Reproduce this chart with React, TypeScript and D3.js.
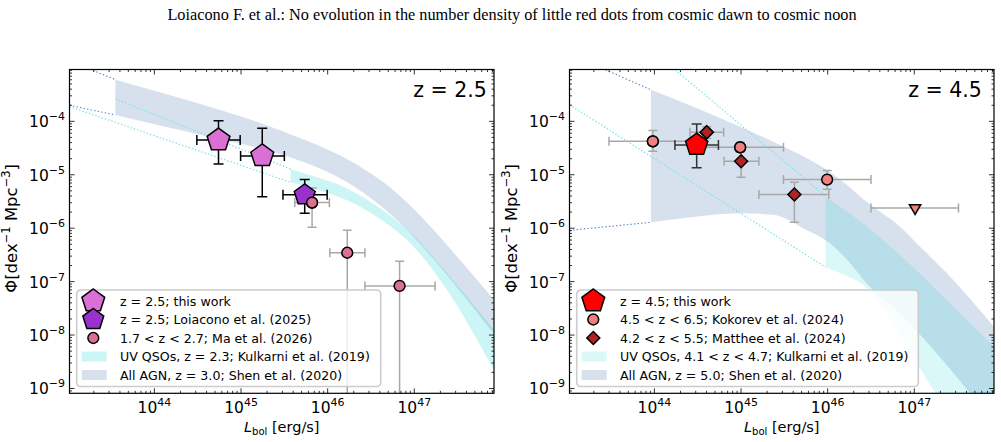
import React, { useEffect, useRef } from "react";
import * as d3 from "d3";

const TITLE =
  "Loiacono F. et al.: No evolution in the number density of little red dots from cosmic dawn to cosmic noon";

// axis limits in log10 units
const L_LIM = [43.02, 47.92];
const PHI_LIM = [-9.09, -3.03];

// points: logL, logL lo, logL hi, logPhi, logPhi lo, logPhi hi
const thisWork25 = [
  [44.74, 44.49, 44.99, -4.35, -4.8, -3.99],
  [45.245, 44.995, 45.5, -4.647, -5.41, -4.13],
];
const loiacono25 = [[45.735, 45.484, 45.994, -5.376, -5.72, -5.09]];
const ma26 = [
  [45.82, 45.62, 46.02, -5.52, -5.98, -5.25],
  [46.226, 46.025, 46.43, -6.46, -12, -6.04],
  [46.83, 46.43, 47.24, -7.08, -12, -6.62],
];

const thisWork45 = [[44.488, 44.237, 44.739, -4.441, -4.87, -4.05]];
const kokorev24 = [
  [43.982, 43.476, 44.49, -4.374, -4.56, -4.17],
  [44.99, 44.49, 45.49, -4.486, -4.58, -4.39],
  [45.994, 45.49, 46.5, -5.09, -5.27, -4.92],
];
const kokorev24Limit = [[47.009, 46.5, 47.51, -5.62, -5.62, -5.62]];
const matthee24 = [
  [44.604, 44.41, 44.8, -4.205, -4.32, -4.1],
  [45.001, 44.805, 45.206, -4.748, -5.047, -4.535],
  [45.616, 45.206, 46.013, -5.37, -5.89, -5.14],
];

// Shen et al. (2020), z = 3.0
const shen30L = [43.55, 44.53, 45.22, 45.68, 46.18, 46.8, 47.1, 47.45, 47.92];
const shen30Up = [-3.22, -3.676, -4.03, -4.31, -4.668, -5.347, -5.82, -6.45, -7.34];
const shen30Lo = [-3.88, -4.25, -4.51, -4.74, -5.1, -5.85, -6.35, -7.02, -7.98];
// Kulkarni et al. (2019), z = 2.3
const kulk23L = [45.57, 45.84, 46.23, 46.6, 47.0, 47.38, 47.92];
const kulk23Up = [-4.89, -5.03, -5.26, -5.62, -6.15, -6.85, -7.9];
const kulk23Lo = [-5.14, -5.26, -5.48, -5.82, -6.36, -7.16, -8.66];

// Shen et al. (2020), z = 5.0
const shen50L = [43.96, 44.5, 45.0, 45.37, 45.75, 46.0, 46.23, 46.46, 46.84, 47.1, 47.42, 47.92];
const shen50Up = [-3.41, -3.76, -4.11, -4.38, -4.68, -4.92, -5.2, -5.52, -5.98, -6.4, -6.92, -7.85];
const shen50Lo = [-5.89, -5.78, -5.72, -5.75, -6.03, -6.25, -6.6, -7.05, -7.6, -8.05, -8.65, -9.65];
// Kulkarni et al. (2019), 4.1 < z < 4.7
const kulk45L = [45.975, 46.2, 46.4, 46.6, 46.8, 47.0, 47.25, 47.92];
const kulk45Up = [-5.4, -5.66, -5.9, -6.17, -6.45, -6.75, -7.15, -8.22];
const kulk45Lo = [-6.73, -6.88, -7.05, -7.4, -7.9, -8.45, -9.1, -10.8];

// dotted extrapolations below the fitted luminosity range: [logL, logPhi] pairs
const shen30ExtUp = [[43.02, -2.87], [43.55, -3.22]];
const shen30ExtLo = [[43.02, -3.7], [43.55, -3.88]];
const kulk23ExtUp = [[43.55, -3.58], [45.57, -4.89]];
const kulk23ExtLo = [[43.02, -3.725], [45.57, -5.14]];
const shen50ExtUp = [[43.02, -2.74], [43.96, -3.41]];
const shen50ExtLo = [[43.02, -6.04], [43.96, -5.89]];
const kulk45ExtUp = [[44.0, -2.71], [45.975, -5.4]];
const kulk45ExtLo = [[43.02, -3.69], [45.975, -6.73]];

const legend25 = [
  "z = 2.5; this work",
  "z = 2.5; Loiacono et al. (2025)",
  "1.7 < z < 2.7; Ma et al. (2026)",
  "UV QSOs, z = 2.3; Kulkarni et al. (2019)",
  "All AGN, z = 3.0; Shen et al. (2020)",
];
const legend45 = [
  "z = 4.5; this work",
  "4.5 < z < 6.5; Kokorev et al. (2024)",
  "4.2 < z < 5.5; Matthee et al. (2024)",
  "UV QSOs, 4.1 < z < 4.7; Kulkarni et al. (2019)",
  "All AGN, z = 5.0; Shen et al. (2020)",
];

const FONT = "DejaVu Sans, sans-serif";
const W = 424.5;
const H = 323.8;
const TOP = 69.5;
const SHEN_FILL = "#b0c4de";
const KULK_FILL = "#00ced1";

function pentagon(r: number) {
  const pts = d3.range(5).map((k) => {
    const a = -Math.PI / 2 + (k * 2 * Math.PI) / 5;
    return [r * Math.cos(a), r * Math.sin(a)];
  });
  return "M" + pts.map((p) => p.join(",")).join("L") + "Z";
}

function markerPath(kind: string, r: number) {
  if (kind === "pentagon") return pentagon(r);
  if (kind === "circle") return d3.symbol(d3.symbolCircle, Math.PI * r * r)();
  if (kind === "diamond") return d3.symbol(d3.symbolSquare, 2 * r * r)();
  return d3.symbol(d3.symbolTriangle, r * r * 1.3)();
}

function markerRotation(kind: string) {
  if (kind === "diamond") return 45;
  if (kind === "tridown") return 180;
  return 0;
}

function drawPanel(svg: any, left: number, cfg: any) {
  const g = svg.append("g").attr("transform", `translate(${left},${TOP})`);
  const x = d3.scaleLog().domain(L_LIM.map((v) => 10 ** v)).range([0, W]);
  const y = d3.scaleLog().domain(PHI_LIM.map((v) => 10 ** v)).range([H, 0]);
  const X = (v: number) => x(10 ** v);
  const Y = (v: number) => y(10 ** v);

  g.append("clipPath").attr("id", cfg.id).append("rect").attr("width", W).attr("height", H);
  const plot = g.append("g").attr("clip-path", `url(#${cfg.id})`);

  const area = d3
    .area<number[]>()
    .x((d) => X(d[0]))
    .y0((d) => Y(d[2]))
    .y1((d) => Y(d[1]))
    .curve(d3.curveMonotoneX);
  const band = (Ls: number[], up: number[], lo: number[], fill: string, op: number) =>
    plot
      .append("path")
      .datum(Ls.map((l, i) => [l, up[i], lo[i]]))
      .attr("d", area)
      .attr("fill", fill)
      .attr("fill-opacity", op);

  band(cfg.shen[0], cfg.shen[1], cfg.shen[2], SHEN_FILL, 0.5);
  band(cfg.kulk[0], cfg.kulk[1], cfg.kulk[2], KULK_FILL, cfg.kulkAlpha);

  const line = d3.line<number[]>().x((d) => X(d[0])).y((d) => Y(d[1]));
  cfg.shenExt.forEach((seg: number[][]) =>
    plot.append("path").attr("d", line(seg)).attr("fill", "none")
      .attr("stroke", "#4a86c8").attr("stroke-width", 1.1).attr("stroke-dasharray", "1.4 2.2"));
  cfg.kulkExt.forEach((seg: number[][]) =>
    plot.append("path").attr("d", line(seg)).attr("fill", "none")
      .attr("stroke", "#7fe3e6").attr("stroke-width", 1.3).attr("stroke-dasharray", "1.4 2"));

  // error bars first, markers after
  const errs = (data: number[][], color: string, cap: number) => {
    const e = plot.append("g").attr("stroke", color).attr("stroke-width", 1.5).attr("fill", "none");
    data.forEach((d) => {
      const cx = X(d[0]);
      const cy = Y(d[3]);
      e.append("line").attr("x1", X(d[1])).attr("x2", X(d[2])).attr("y1", cy).attr("y2", cy);
      [d[1], d[2]].forEach((v) =>
        e.append("line").attr("x1", X(v)).attr("x2", X(v)).attr("y1", cy - cap).attr("y2", cy + cap));
      if (d[4] !== d[5]) {
        e.append("line").attr("x1", cx).attr("x2", cx).attr("y1", Y(d[4])).attr("y2", Y(d[5]));
        [d[4], d[5]].forEach((v) =>
          e.append("line").attr("x1", cx - cap).attr("x2", cx + cap).attr("y1", Y(v)).attr("y2", Y(v)));
      }
    });
  };
  const marks = (data: number[][], kind: string, r: number, fill: string) =>
    data.forEach((d) =>
      plot.append("path")
        .attr("d", markerPath(kind, r))
        .attr("transform", `translate(${X(d[0])},${Y(d[3])}) rotate(${markerRotation(kind)})`)
        .attr("fill", fill).attr("stroke", "#000").attr("stroke-width", 1.5)
        .attr("stroke-linejoin", "miter"));

  cfg.series.forEach((s: any) => errs(s.data, s.errColor, s.cap));
  cfg.series.forEach((s: any) => marks(s.data, s.kind, s.r, s.fill));

  // legend
  const lg = g.append("g").attr("transform", "translate(7.2,220.5)");
  lg.append("rect").attr("width", cfg.legendW).attr("height", 96.5).attr("rx", 4)
    .attr("fill", "#fff").attr("fill-opacity", 0.8).attr("stroke", "#cccccc").attr("stroke-width", 1.6);
  cfg.legend.forEach((txt: string, i: number) => {
    const ry = 11 + i * 18.5;
    const item = cfg.legendKeys[i];
    if (item.patch) {
      lg.append("rect").attr("x", 5).attr("y", ry - 5).attr("width", 25).attr("height", 10)
        .attr("fill", item.patch).attr("fill-opacity", item.alpha);
    } else {
      lg.append("path").attr("d", markerPath(item.kind, item.r))
        .attr("transform", `translate(16.6,${ry}) rotate(${markerRotation(item.kind)})`)
        .attr("fill", item.fill).attr("stroke", "#000").attr("stroke-width", 1.5);
    }
    lg.append("text").attr("x", 43.3).attr("y", ry).attr("dy", "0.36em")
      .attr("font-family", FONT).attr("font-size", 12.6).attr("fill", "#000").text(txt);
  });

  g.append("text").attr("x", cfg.zX).attr("y", 27.2).attr("font-family", FONT)
    .attr("font-size", 20.5).text(cfg.zLabel);

  // frame and inward ticks on all four sides
  const ax = g.append("g").attr("stroke", "#000");
  x.ticks().forEach((t) => {
    const px = x(t);
    const major = Math.abs(Math.log10(t) - Math.round(Math.log10(t))) < 1e-6;
    const len = major ? 5 : 2.5;
    ax.append("line").attr("x1", px).attr("x2", px).attr("y1", H).attr("y2", H - len).attr("stroke-width", 0.8);
    ax.append("line").attr("x1", px).attr("x2", px).attr("y1", 0).attr("y2", len).attr("stroke-width", 0.8);
    if (major) {
      const tx = g.append("text").attr("x", px).attr("y", H + 20).attr("text-anchor", "middle")
        .attr("font-family", FONT).attr("font-size", 15.5);
      tx.append("tspan").text("10");
      tx.append("tspan").attr("dy", -7).attr("font-size", 11).text(String(Math.round(Math.log10(t))));
    }
  });
  y.ticks().forEach((t) => {
    const py = y(t);
    const major = Math.abs(Math.log10(t) - Math.round(Math.log10(t))) < 1e-6;
    const len = major ? 5 : 2.5;
    ax.append("line").attr("x1", 0).attr("x2", len).attr("y1", py).attr("y2", py).attr("stroke-width", 0.8);
    ax.append("line").attr("x1", W).attr("x2", W - len).attr("y1", py).attr("y2", py).attr("stroke-width", 0.8);
    if (major) {
      const ty = g.append("text").attr("x", -4.5).attr("y", py + 6).attr("text-anchor", "end")
        .attr("font-family", FONT).attr("font-size", 15.5);
      ty.append("tspan").text("10");
      ty.append("tspan").attr("dy", -7).attr("font-size", 11)
        .text("\u2212" + String(Math.abs(Math.round(Math.log10(t)))));
    }
  });
  ax.append("rect").attr("width", W).attr("height", H).attr("fill", "none").attr("stroke-width", 1.2);

  // axis titles
  const xl = g.append("text").attr("x", W / 2).attr("y", H + 39).attr("text-anchor", "middle")
    .attr("font-family", FONT).attr("font-size", 14.5);
  xl.append("tspan").attr("font-style", "italic").text("L");
  xl.append("tspan").attr("dy", 3).attr("font-size", 10).text("bol");
  xl.append("tspan").attr("dy", -3).text(" [erg/s]");

  const yl = g.append("text").attr("transform", `translate(-53,${H / 2 - 3}) rotate(-90)`)
    .attr("text-anchor", "middle").attr("font-family", FONT).attr("font-size", 16.5);
  yl.append("tspan").text("\u03a6[dex");
  yl.append("tspan").attr("dy", -7).attr("font-size", 11.5).text("\u22121");
  yl.append("tspan").attr("dy", 7).text(" Mpc");
  yl.append("tspan").attr("dy", -7).attr("font-size", 11.5).text("\u22123");
  yl.append("tspan").attr("dy", 7).text("]");
}

export default function App() {
  const svgRef = useRef<SVGSVGElement>(null);

  useEffect(() => {
    const svg = d3.select(svgRef.current);
    if (!svg.node()) return;
    svg.selectAll("*").remove();

    svg.append("text").attr("x", 512).attr("y", 20).attr("text-anchor", "middle")
      .attr("font-family", "Liberation Serif, Times New Roman, serif").attr("font-size", 16.3)
      .text(TITLE);

    drawPanel(svg, 69.5, {
      id: "clipz25",
      zLabel: "z = 2.5",
      zX: 343.8,
      shen: [shen30L, shen30Up, shen30Lo],
      kulk: [kulk23L, kulk23Up, kulk23Lo],
      kulkAlpha: 0.2,
      shenExt: [shen30ExtUp, shen30ExtLo],
      kulkExt: [kulk23ExtUp, kulk23ExtLo],
      series: [
        { data: ma26, kind: "circle", r: 5.4, fill: "#db7093", errColor: "#a8a8a8", cap: 4.5 },
        { data: thisWork25, kind: "pentagon", r: 12, fill: "#da70d6", errColor: "#000", cap: 5 },
        { data: loiacono25, kind: "pentagon", r: 11, fill: "#9932cc", errColor: "#000", cap: 5 },
        { data: ma26.slice(0, 1), kind: "circle", r: 5.4, fill: "#db7093", errColor: "none", cap: 0 },
      ],
      legend: legend25,
      legendW: 304,
      legendKeys: [
        { kind: "pentagon", r: 12, fill: "#da70d6" },
        { kind: "pentagon", r: 11, fill: "#9932cc" },
        { kind: "circle", r: 5.4, fill: "#db7093" },
        { patch: KULK_FILL, alpha: 0.2 },
        { patch: SHEN_FILL, alpha: 0.5 },
      ],
    });

    drawPanel(svg, 569.5, {
      id: "clipz45",
      zLabel: "z = 4.5",
      zX: 338.8,
      shen: [shen50L, shen50Up, shen50Lo],
      kulk: [kulk45L, kulk45Up, kulk45Lo],
      kulkAlpha: 0.14,
      shenExt: [shen50ExtUp, shen50ExtLo],
      kulkExt: [kulk45ExtUp, kulk45ExtLo],
      series: [
        { data: kokorev24, kind: "circle", r: 5.4, fill: "#f08080", errColor: "#a8a8a8", cap: 4.5 },
        { data: kokorev24Limit, kind: "tridown", r: 6.5, fill: "#f08080", errColor: "#a8a8a8", cap: 4.5 },
        { data: matthee24, kind: "diamond", r: 6.5, fill: "#b22222", errColor: "#a8a8a8", cap: 4.5 },
        { data: thisWork45, kind: "pentagon", r: 11.7, fill: "#ff0000", errColor: "#333", cap: 5 },
        { data: kokorev24.slice(0, 2), kind: "circle", r: 5.4, fill: "#f08080", errColor: "none", cap: 0 },
        { data: matthee24.slice(0, 1), kind: "diamond", r: 6.5, fill: "#b22222", errColor: "none", cap: 0 },
      ],
      legend: legend45,
      legendW: 341.6,
      legendKeys: [
        { kind: "pentagon", r: 12, fill: "#ff0000" },
        { kind: "circle", r: 5.4, fill: "#f08080" },
        { kind: "diamond", r: 6.5, fill: "#b22222" },
        { patch: KULK_FILL, alpha: 0.14 },
        { patch: SHEN_FILL, alpha: 0.5 },
      ],
    });
  }, []);

  return (
    <div style={{ position: "absolute", left: 0, top: 0 }}>
      <svg ref={svgRef} width={1001} height={442} style={{ display: "block", background: "#fff" }} />
    </div>
  );
}
